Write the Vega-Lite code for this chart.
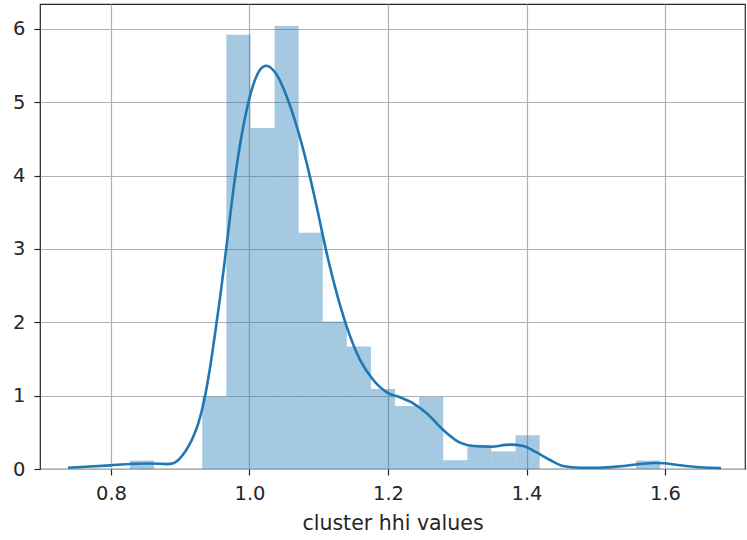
{
  "$schema": "https://vega.github.io/schema/vega-lite/v6.json",
  "width": 705,
  "height": 465,
  "autosize": {"type": "none"},
  "padding": {"left": 40, "top": 4, "right": 2, "bottom": 71},
  "background": "white",
  "config": {
    "font": "DejaVu Sans",
    "view": {"stroke": "#262626", "strokeWidth": 1.2},
    "axis": {
      "domain": false,
      "grid": true,
      "gridColor": "#b0b0b0",
      "gridWidth": 1.2,
      "tickColor": "#262626",
      "tickWidth": 1.2,
      "tickSize": 6,
      "labelFont": "DejaVu Sans",
      "labelFontSize": 19.5,
      "labelColor": "#262626",
      "titleFont": "DejaVu Sans",
      "titleFontSize": 20.5,
      "titleFontWeight": "normal",
      "titleColor": "#262626"
    }
  },
  "datasets": {
    "hist": [
      {"lo": 0.8274, "hi": 0.8622, "density": 0.115},
      {"lo": 0.8622, "hi": 0.8970, "density": 0},
      {"lo": 0.8970, "hi": 0.9318, "density": 0},
      {"lo": 0.9318, "hi": 0.9666, "density": 0.99},
      {"lo": 0.9666, "hi": 1.0014, "density": 5.92},
      {"lo": 1.0014, "hi": 1.0362, "density": 4.65},
      {"lo": 1.0362, "hi": 1.0710, "density": 6.04},
      {"lo": 1.0710, "hi": 1.1058, "density": 3.22},
      {"lo": 1.1058, "hi": 1.1406, "density": 2.01},
      {"lo": 1.1406, "hi": 1.1754, "density": 1.67},
      {"lo": 1.1754, "hi": 1.2102, "density": 1.09},
      {"lo": 1.2102, "hi": 1.2450, "density": 0.86},
      {"lo": 1.2450, "hi": 1.2798, "density": 0.98},
      {"lo": 1.2798, "hi": 1.3146, "density": 0.12},
      {"lo": 1.3146, "hi": 1.3494, "density": 0.33},
      {"lo": 1.3494, "hi": 1.3842, "density": 0.24},
      {"lo": 1.3842, "hi": 1.4190, "density": 0.46},
      {"lo": 1.4190, "hi": 1.4538, "density": 0},
      {"lo": 1.4538, "hi": 1.4886, "density": 0},
      {"lo": 1.4886, "hi": 1.5234, "density": 0},
      {"lo": 1.5234, "hi": 1.5582, "density": 0},
      {"lo": 1.5582, "hi": 1.5930, "density": 0.115}
    ],
    "kde": [
      {"x": 0.7379, "y": 0.018},
      {"x": 0.7697, "y": 0.034},
      {"x": 0.7986, "y": 0.05},
      {"x": 0.8274, "y": 0.068},
      {"x": 0.8491, "y": 0.076},
      {"x": 0.8708, "y": 0.071},
      {"x": 0.8800, "y": 0.067},
      {"x": 0.8900, "y": 0.078},
      {"x": 0.8972, "y": 0.123},
      {"x": 0.9044, "y": 0.2},
      {"x": 0.9116, "y": 0.304},
      {"x": 0.9188, "y": 0.44},
      {"x": 0.9261, "y": 0.623},
      {"x": 0.9347, "y": 0.941},
      {"x": 0.9430, "y": 1.38},
      {"x": 0.9502, "y": 1.84},
      {"x": 0.9574, "y": 2.33},
      {"x": 0.9622, "y": 2.68},
      {"x": 0.9694, "y": 3.24},
      {"x": 0.9766, "y": 3.80},
      {"x": 0.9910, "y": 4.67},
      {"x": 1.0032, "y": 5.17},
      {"x": 1.0152, "y": 5.443},
      {"x": 1.0238, "y": 5.498},
      {"x": 1.0393, "y": 5.375},
      {"x": 1.0537, "y": 5.079},
      {"x": 1.0682, "y": 4.67},
      {"x": 1.0826, "y": 4.17},
      {"x": 1.0970, "y": 3.578},
      {"x": 1.1115, "y": 2.943},
      {"x": 1.1259, "y": 2.397},
      {"x": 1.1404, "y": 1.941},
      {"x": 1.1596, "y": 1.487},
      {"x": 1.1788, "y": 1.214},
      {"x": 1.1990, "y": 1.041},
      {"x": 1.2173, "y": 0.978},
      {"x": 1.2365, "y": 0.896},
      {"x": 1.2559, "y": 0.76},
      {"x": 1.2799, "y": 0.532},
      {"x": 1.3040, "y": 0.359},
      {"x": 1.3232, "y": 0.314},
      {"x": 1.3473, "y": 0.304},
      {"x": 1.3762, "y": 0.332},
      {"x": 1.3954, "y": 0.314},
      {"x": 1.4123, "y": 0.236},
      {"x": 1.4339, "y": 0.123},
      {"x": 1.4527, "y": 0.041},
      {"x": 1.4773, "y": 0.018},
      {"x": 1.5061, "y": 0.018},
      {"x": 1.5350, "y": 0.037},
      {"x": 1.5639, "y": 0.068},
      {"x": 1.5856, "y": 0.082},
      {"x": 1.6000, "y": 0.078},
      {"x": 1.6217, "y": 0.05},
      {"x": 1.6505, "y": 0.023},
      {"x": 1.6809, "y": 0.014}
    ]
  },
  "layer": [
    {
      "data": {"name": "hist"},
      "mark": {"type": "rect", "color": "#1f77b4", "opacity": 0.4, "strokeWidth": 0},
      "encoding": {
        "x": {
          "field": "lo",
          "type": "quantitative",
          "scale": {"domain": [0.6975, 1.7155], "nice": false, "zero": false},
          "axis": {
            "values": [0.8, 1.0, 1.2, 1.4, 1.6],
            "format": ".1f",
            "labelPadding": 9,
            "title": "cluster hhi values",
            "titlePadding": 11
          }
        },
        "x2": {"field": "hi"},
        "y": {
          "field": "density",
          "type": "quantitative",
          "scale": {"domain": [0, 6.34], "nice": false},
          "axis": {
            "values": [0, 1, 2, 3, 4, 5, 6],
            "format": "d",
            "labelPadding": 9,
            "title": null
          }
        },
        "y2": {"datum": 0}
      }
    },
    {
      "data": {"name": "kde"},
      "mark": {"type": "line", "color": "#1f77b4", "strokeWidth": 2.6, "interpolate": "monotone"},
      "encoding": {
        "x": {"field": "x", "type": "quantitative"},
        "y": {"field": "y", "type": "quantitative"}
      }
    }
  ]
}
